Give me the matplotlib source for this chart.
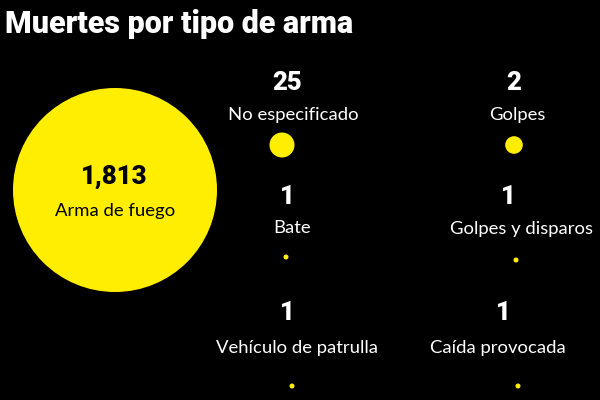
import matplotlib
matplotlib.use("Agg")
import matplotlib.pyplot as plt
from matplotlib.patches import Circle

title = "Muertes por tipo de arma"
categories = ["Arma de fuego", "No especificado", "Golpes", "Bate",
              "Golpes y disparos", "Vehículo de patrulla", "Caída provocada"]
values = [1813, 25, 2, 1, 1, 1, 1]
value_labels = ["1,813", "25", "2", "1", "1", "1", "1"]

# layout in pixels: number (x, y), label (x, y), dot (x, y, radius)
layout = [
    ((114, 177), (115, 211), (115, 190, 102)),
    ((287, 83), (293, 115), (282, 145, 12.5)),
    ((514, 83), (517, 115), (514, 145, 8.8)),
    ((287, 197), (292, 228), (286, 257, 2.5)),
    ((508, 197), (521, 229), (516, 260, 2.5)),
    ((287, 313), (297, 348), (292, 386, 2.5)),
    ((503, 313), (498, 348), (518, 386, 2.5)),
]

yellow = "#FFEE00"
heavy = ["Roboto", "DejaVu Sans"]
font = ["Lato", "DejaVu Sans"]

fig = plt.figure(figsize=(6, 4), dpi=100, facecolor="black")
ax = fig.add_axes([0, 0, 1, 1])
ax.set_facecolor("black")
ax.set_xlim(0, 600)
ax.set_ylim(400, 0)
ax.set_aspect("equal")
ax.axis("off")

fig.text(0.008, 0.917, title, color="white", fontsize=22, fontweight="black",
         family=heavy, ha="left", va="baseline")

for i, (cat, val, lab) in enumerate(zip(categories, values, value_labels)):
    (nx, ny), (lx, ly), (cx, cy, r) = layout[i]
    ax.add_patch(Circle((cx, cy), r, color=yellow, lw=0))
    txt = "black" if i == 0 else "white"
    ax.text(nx, ny, lab, color=txt, fontsize=18.5, fontweight="black",
            family=heavy, ha="center", va="center")
    ax.text(lx, ly, cat, color=txt, fontsize=13.3, family=font,
            ha="center", va="center")

fig.savefig("out.png", dpi=100, facecolor="black")
